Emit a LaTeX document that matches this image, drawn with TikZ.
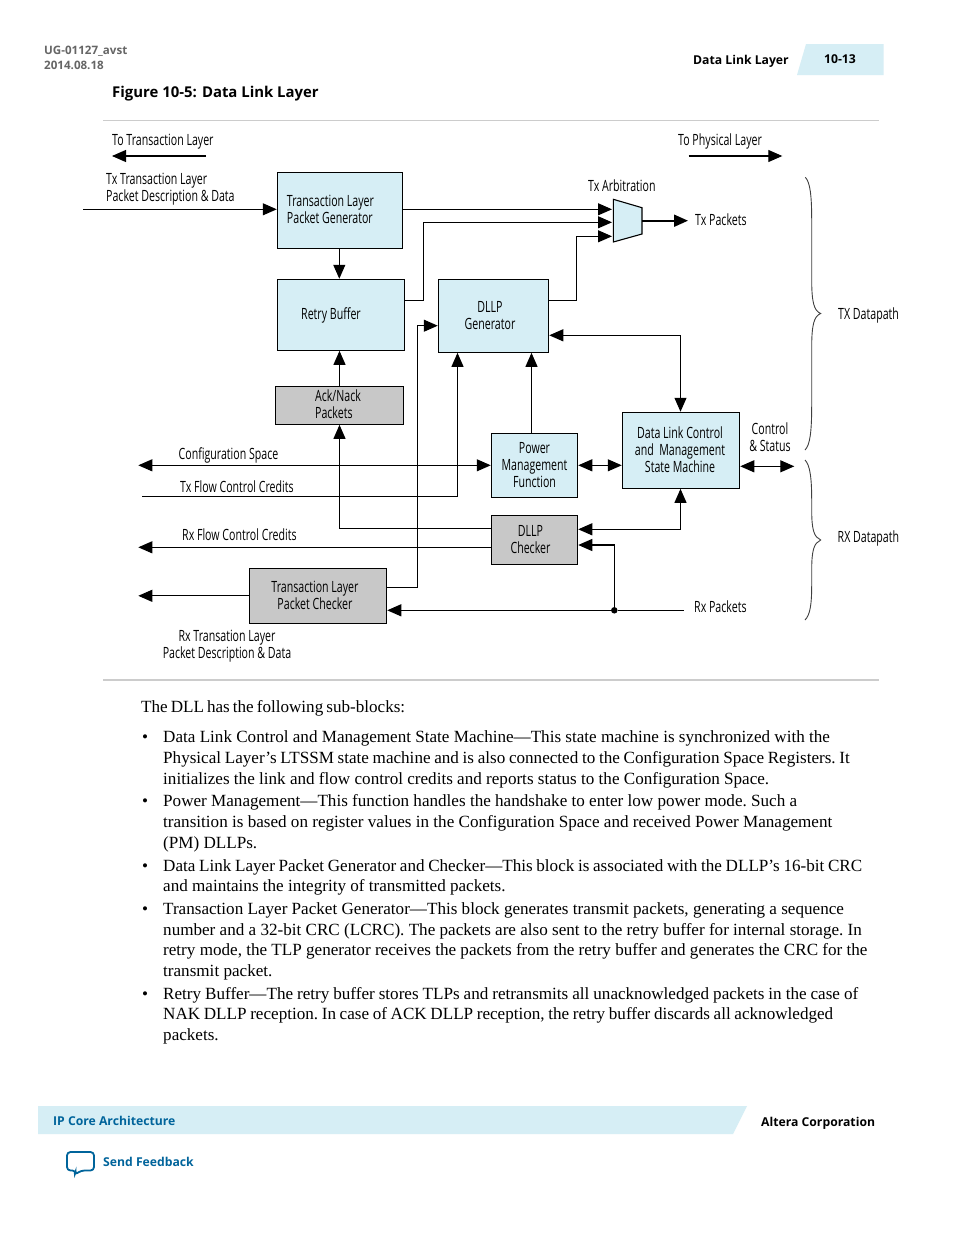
\documentclass[tikz,border=0pt]{standalone}
\usepackage{fontspec}
\usepackage{array}
\usetikzlibrary{arrows.meta}
\setmainfont{Liberation Serif}
\newfontfamily\diagfont[FakeStretch=0.685]{Open Sans}
\newfontfamily\headfont{Open Sans}
\definecolor{lightblue}{HTML}{D6EEF5}
\definecolor{boxgrey}{HTML}{C8C8C8}
\definecolor{linkblue}{HTML}{00649B}
\newcommand{\moved}[3][c]{\hspace*{#2pt}\vbox{\kern3pt\hbox{\begin{tabular}{@{}#1@{}}#3\end{tabular}}}}
\newcommand{\fitline}[2]{\hbox to #1pt{#2}}
\tikzset{
  blockbox/.style={draw=black, line width=1.1pt, inner sep=0pt,
    font=\diagfont\fontsize{15.5}{17}\selectfont},
  bluebox/.style={blockbox, fill=lightblue},
  greybox/.style={blockbox, fill=boxgrey},
  sig/.style={line width=1.1pt, draw=black},
  sigtip/.style={sig, -{Triangle[length=14pt,width=12pt]}},
  sigboth/.style={sig, {Triangle[length=14pt,width=12pt]}-{Triangle[length=14pt,width=12pt]}},
  sigtag/.style={inner sep=0pt, anchor=west, align=left, yshift=-1.5pt, font=\diagfont\fontsize{15.5}{17}\selectfont},
  bodyline/.style={inner sep=0pt, anchor=base west, font=\fontsize{17.1}{20}\selectfont\frenchspacing},
  headtag/.style={inner sep=0pt, anchor=west, yshift=-1pt, font=\headfont\bfseries\fontsize{12.2}{15}\selectfont},
  curlybrace/.style={line width=0.9pt, draw=black!75},
}
\begin{document}
\begin{tikzpicture}[x=1pt, y=-1pt]
    \useasboundingbox (0,0) rectangle (954,1235);
    \fill[white] (0,0) rectangle (954,1235);

    % Page header
    \node[headtag, text=black!60, font=\headfont\fontsize{11.6}{15}\selectfont\bfseries, align=left] (docid) at (44,57) {UG-01127\_avst\\2014.08.18};
    \node[headtag] (headtitle) at (693,60) {Data Link Layer};
    \fill[lightblue] (797,75) -- (806,44) -- (883.5,44) -- (883.5,75) -- cycle;
    \node[headtag, anchor=center] (pagenum) at (840,58.5) {10-13};
    \node[headtag, font=\headfont\bfseries\fontsize{14.9}{18}\selectfont] (figtitle) at (112,93) {Figure 10-5: Data Link Layer};
    \draw[black!20, line width=1pt] (103,120.5) -- (879,120.5);

    % Blocks
    \node[bluebox, minimum width=125.4, minimum height=76] (tlpgen) at (340,210.3) {\moved[l]{-19}{Transaction Layer\\Packet Generator}};
    \node[bluebox, minimum width=127.4, minimum height=71] (retry) at (341,314.8) {\moved{-20}{Retry Buffer}};
    \node[greybox, minimum width=127.6, minimum height=38] (acknack) at (339.5,405.3) {\moved[l]{-3}{Ack/Nack\\Packets}};
    \node[bluebox, minimum width=110.4, minimum height=73] (dllpgen) at (493.5,315.8) {\moved{-7}{DLLP\\Generator}};
    \node[bluebox, minimum width=86.4, minimum height=64] (power) at (534.5,465.3) {\moved{0}{Power\\Management\\Function}};
    \node[bluebox, minimum width=117.4, minimum height=76] (dlcm) at (681,450.3) {\moved{-2}{Data Link Control\\and\ \ Management\\State Machine}};
    \node[greybox, minimum width=86.4, minimum height=49] (dllpcheck) at (534.5,539.8) {\moved{-8}{DLLP\\Checker}};
    \node[greybox, minimum width=137.4, minimum height=55] (tlpcheck) at (318,595.8) {\moved{-6}{Transaction Layer\\Packet Checker}};

    % Tx arbitration
    \draw[sig, fill=lightblue] (613.3,199.3) -- (642,207.7) -- (642,234) -- (613.3,242) -- cycle;
    \coordinate (muxa) at (612,209.3);
    \coordinate (muxb) at (612,222.3);
    \coordinate (muxc) at (612,236.3);
    \coordinate (muxout) at (642,220.7);

    % Free line ends
    \coordinate (totlstart) at (206,156);
    \coordinate (totlend) at (112,156);
    \coordinate (tophystart) at (688.7,156);
    \coordinate (tophyend) at (782.3,156);
    \coordinate (txin) at (83,209.3);
    \coordinate (txpackets) at (688,220.7);
    \coordinate (cfgout) at (138.3,465.3);
    \coordinate (txflowin) at (142,496.3);
    \coordinate (rxflowout) at (138.3,547.3);
    \coordinate (rxout) at (138.3,595.8);
    \coordinate (rxin) at (683.7,610.3);
    \coordinate (ctrlout) at (794.3,466.3);
    \node[circle, fill=black, inner sep=0pt, minimum size=6.5pt] (rxdot) at (614.3,610.3) {};

    % Connectors
    \draw[sigtip] (totlstart) -- (totlend);
    \draw[sigtip] (tophystart) -- (tophyend);
    \draw[sigtip] (txin) -- ([yshift=1pt]tlpgen.west);
    \draw[sigtip] ([yshift=1pt]tlpgen.east) -- (muxa);
    \draw[sigtip] ([yshift=14.5pt]retry.east) -- ++(18.6,0) |- (muxb);
    \draw[sigtip] ([yshift=15.5pt]dllpgen.east) -- ++(27.6,0) |- (muxc);
    \draw[sigtip, line width=1.8pt] (muxout) -- (txpackets);
    \draw[sigtip] ([xshift=-0.7pt]tlpgen.south) -- ([xshift=-1.7pt]retry.north);
    \draw[sigtip] (acknack.north) -- ([xshift=-1.5pt]retry.south);
    \draw[sigboth] (cfgout) -- (power.west);
    \draw[sigtip] (txflowin) -| ([xshift=-36pt]dllpgen.south);
    \draw[sigtip] ([xshift=-3pt]power.north) -- ([xshift=38pt]dllpgen.south);
    \draw[sigtip] ([yshift=8.5pt]tlpcheck.east) -- ++(30.6,0) |- ([yshift=-9.9pt]dllpgen.west);
    \draw[sigtip] ([yshift=11.5pt]dllpcheck.west) -| (acknack.south);
    \draw[sigtip] ([yshift=-7.5pt]dllpcheck.west) -- (rxflowout);
    \draw[sigtip] (tlpcheck.west) -- (rxout);
    \draw[sigtip] (rxin) -- (rxdot) -- ([yshift=-14.5pt]tlpcheck.east);
    \draw[sigtip] (rxdot) |- ([yshift=-5.2pt]dllpcheck.east);
    \draw[sigboth] (power.east) -- ([yshift=-15pt]dlcm.west);
    \draw[sigboth] ([yshift=-19.5pt]dllpgen.east) -| ([xshift=-0.5pt]dlcm.north);
    \draw[sigboth] ([yshift=10.5pt]dllpcheck.east) -| ([xshift=-0.5pt]dlcm.south);
    \draw[sigboth] ([yshift=-16pt]dlcm.east) -- (ctrlout);

    % Braces
    \draw[curlybrace] (805.3,177.3) .. controls (810,182) and (811.7,195) .. (811.7,220) -- (811.7,280) .. controls (811.7,302) and (814,311) .. (820.7,313.5) .. controls (814,316) and (811.7,325) .. (811.7,347) -- (811.7,405) .. controls (811.7,432) and (810,445) .. (805,450);
    \draw[curlybrace] (805,460) .. controls (810,465) and (811.7,478) .. (811.7,500) -- (811.7,510) .. controls (811.7,530) and (814,537) .. (820.7,540) .. controls (814,543) and (811.7,550) .. (811.7,570) -- (811.7,585) .. controls (811.7,605) and (810,615) .. (805,620);

    % Signal labels
    \node[sigtag] (totl) at (112,140) {To Transaction Layer};
    \node[sigtag] (tophy) at (678,140) {To Physical Layer};
    \node[sigtag] (txdesc) at (106,187.5) {Tx Transaction Layer\\Packet Description \& Data};
    \node[sigtag] (txarb) at (588,184.5) {Tx Arbitration};
    \node[sigtag] (txpk) at (695,218.5) {Tx Packets};
    \node[sigtag] (txpath) at (838,314) {TX Datapath};
    \node[sigtag, anchor=center, align=center] (ctrl) at (770,435.5) {Control\\\&\ Status};
    \node[sigtag] (cfg) at (178.5,454) {Configuration Space};
    \node[sigtag] (txflow) at (180,485.5) {Tx Flow Control Credits};
    \node[sigtag] (rxflow) at (182,533.5) {Rx Flow Control Credits};
    \node[sigtag] (rxpath) at (837.5,537) {RX Datapath};
    \node[sigtag] (rxpk) at (694,605.5) {Rx Packets};
    \node[sigtag, anchor=center, align=center] (rxdesc) at (227,644.5) {Rx Transation Layer\\Packet Description \& Data};
    \draw[black!20, line width=2.5pt] (103,680) -- (879,680);

    % Body text
    \node[bodyline] (intro) at (141,712) {\fitline{264}{The DLL has the following sub-blocks:}};

    \node[bodyline] (bulleta) at (142,742) {•};
    \node[bodyline] (la1) at (163,742) {Data Link Control and Management State Machine—This state machine is synchronized with the};
    \node[bodyline] (la2) at (163,763) {\fitline{686.6}{Physical Layer’s LTSSM state machine and is also connected to the Configuration Space Registers. It}};
    \node[bodyline] (la3) at (163,784) {initializes the link and flow control credits and reports status to the Configuration Space.};

    \node[bodyline] (bulletb) at (142,806.5) {•};
    \node[bodyline] (lb1) at (163,806.5) {Power Management—This function handles the handshake to enter low power mode. Such a};
    \node[bodyline] (lb2) at (163,827) {transition is based on register values in the Configuration Space and received Power Management};
    \node[bodyline] (lb3) at (163,848) {(PM) DLLPs.};

    \node[bodyline] (bulletc) at (142,871) {•};
    \node[bodyline] (lc1) at (163,871) {\fitline{699}{Data Link Layer Packet Generator and Checker—This block is associated with the DLLP’s 16-bit CRC}};
    \node[bodyline] (lc2) at (163,891.5) {and maintains the integrity of transmitted packets.};

    \node[bodyline] (bulletd) at (142,914) {•};
    \node[bodyline] (ld1) at (163,914) {Transaction Layer Packet Generator—This block generates transmit packets, generating a sequence};
    \node[bodyline] (ld2) at (163,935) {number and a 32-bit CRC (LCRC). The packets are also sent to the retry buffer for internal storage. In};
    \node[bodyline] (ld3) at (163,955.5) {retry mode, the TLP generator receives the packets from the retry buffer and generates the CRC for the};
    \node[bodyline] (ld4) at (163,976.5) {transmit packet.};

    \node[bodyline] (bullete) at (142,999.5) {•};
    \node[bodyline] (le1) at (163,999.5) {\fitline{695}{Retry Buffer—The retry buffer stores TLPs and retransmits all unacknowledged packets in the case of}};
    \node[bodyline] (le2) at (163,1019.5) {\fitline{670}{NAK DLLP reception. In case of ACK DLLP reception, the retry buffer discards all acknowledged}};
    \node[bodyline] (le3) at (163,1040.5) {packets.};

    % Page footer
    \fill[lightblue] (38,1106) -- (747,1106) -- (733,1134) -- (38,1134) -- cycle;
    \node[headtag, text=linkblue] (section) at (53,1120) {IP Core Architecture};
    \node[headtag] (corp) at (761,1122) {Altera Corporation};
    \draw[linkblue, line width=1.8pt, rounded corners=3.5pt, fill=white] (67,1152) -- (94,1152) -- (94,1170.5) -- (81,1170.5) -- (74.5,1175) -- (76,1170.5) -- (67,1170.5) -- cycle;
    \node[headtag, text=linkblue] (feedback) at (103,1161) {Send Feedback};
\end{tikzpicture}
\end{document}
